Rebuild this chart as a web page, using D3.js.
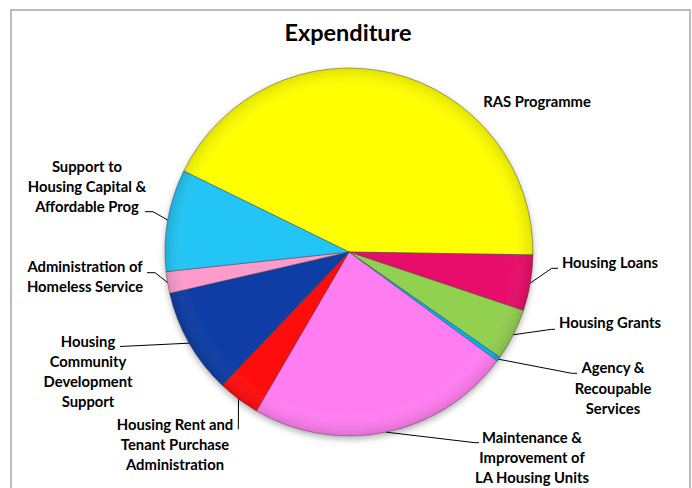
<!DOCTYPE html>
<html>
<head>
<meta charset="utf-8">
<script src="https://cdn.jsdelivr.net/npm/d3@7"></script>
<style>
  html, body { margin: 0; padding: 0; background: #fff; }
  svg { display: block; }
  text { font-family: Lato, "Liberation Sans", sans-serif; font-weight: bold; fill: #000; }
</style>
</head>
<body>
<svg id="chart" width="692" height="488"></svg>
<script>
// ---- data (clockwise order, starting with RAS Programme) ----
const categories = [
  "RAS Programme",
  "Housing Loans",
  "Housing Grants",
  "Agency & Recoupable Services",
  "Maintenance & Improvement of LA Housing Units",
  "Housing Rent and Tenant Purchase Administration",
  "Housing Community Development Support",
  "Administration of Homeless Service",
  "Support to Housing Capital & Affordable Prog"
];
const values = [43.0, 4.9, 4.55, 0.4, 23.3, 3.7, 9.3, 1.9, 8.95];
const colors = ["#FFFF00", "#E8116B", "#92D050", "#00B0F0", "#FF7DF0", "#FF0A0A", "#0A3DA5", "#FF9ACD", "#22C5F5"];
const labelLines = [
  ["RAS Programme"],
  ["Housing Loans"],
  ["Housing Grants"],
  ["Agency &", "Recoupable", "Services"],
  ["Maintenance &", "Improvement of", "LA Housing Units"],
  ["Housing Rent and", "Tenant Purchase", "Administration"],
  ["Housing", "Community", "Development", "Support"],
  ["Administration of", "Homeless Service"],
  ["Support to", "Housing Capital &", "Affordable Prog"]
];
const title = "Expenditure";

// ---- layout ----
const svg = d3.select("#chart");
const cx = 349, cy = 252, R = 184;
const startDeg = -63.9;

// frame
svg.append("rect").attr("x", 11).attr("y", 10).attr("width", 679).attr("height", 490)
  .attr("fill", "#fff").attr("stroke", "#A6A6A6").attr("stroke-width", 1.5);

svg.append("text").attr("x", 348).attr("y", 41).attr("text-anchor", "middle")
  .style("font-size", "23.5px").text(title);

const defs = svg.append("defs");
const f = defs.append("filter").attr("id", "shadow").attr("x", "-20%").attr("y", "-20%").attr("width", "140%").attr("height", "140%");
f.append("feDropShadow").attr("dx", 0).attr("dy", 3).attr("stdDeviation", 3).attr("flood-color", "#000").attr("flood-opacity", 0.3);

const rg = defs.append("radialGradient").attr("id", "rim").attr("cx", "50%").attr("cy", "50%").attr("r", "50%");
rg.append("stop").attr("offset", "0%").attr("stop-color", "#fff").attr("stop-opacity", 0.0);
rg.append("stop").attr("offset", "88%").attr("stop-color", "#fff").attr("stop-opacity", 0.0);
rg.append("stop").attr("offset", "100%").attr("stop-color", "#000").attr("stop-opacity", 0.12);

const pie = d3.pie().sort(null).value(d => d)
  .startAngle(startDeg * Math.PI / 180)
  .endAngle(startDeg * Math.PI / 180 + 2 * Math.PI);
const arcs = pie(values);
const arc = d3.arc().innerRadius(0).outerRadius(R);

const g = svg.append("g").attr("transform", `translate(${cx},${cy})`);
const pg = g.append("g").attr("filter", "url(#shadow)");
pg.selectAll("path.slice").data(arcs).enter().append("path")
  .attr("class", "slice")
  .attr("d", arc)
  .attr("fill", (d, i) => colors[i])
  .attr("stroke", "rgba(60,60,60,0.55)")
  .attr("stroke-width", 0.8);
g.append("circle").attr("r", R).attr("fill", "url(#rim)").attr("pointer-events", "none");

// ---- labels ----
const labelPos = [
  { x: 537, y: 106.5, anchor: "middle" },
  { x: 610, y: 268.3, anchor: "middle" },
  { x: 610, y: 328.3, anchor: "middle" },
  { x: 613, y: 373.3, anchor: "middle" },
  { x: 532, y: 442.7, anchor: "middle" },
  { x: 175, y: 430, anchor: "middle" },
  { x: 88, y: 346.7, anchor: "middle" },
  { x: 85, y: 271.7, anchor: "middle" },
  { x: 87, y: 171.7, anchor: "middle" }
];
const lineH = 20.2;
labelLines.forEach((lines, i) => {
  const p = labelPos[i];
  const t = svg.append("text").attr("text-anchor", p.anchor).style("font-size", "14.8px");
  lines.forEach((ln, j) => {
    t.append("tspan").attr("x", p.x).attr("y", p.y + j * lineH).text(ln);
  });
});

// leader lines: from slice rim to label
function rimPoint(i, frac) {
  const a = arcs[i].startAngle + (arcs[i].endAngle - arcs[i].startAngle) * frac;
  return [cx + R * Math.sin(a), cy - R * Math.cos(a)];
}
const leaders = [
  null,
  { i: 1, frac: 0.5, pts: [[551.7, 268.3], [558, 268.3]] },
  { i: 2, frac: 0.5, pts: [[551.7, 329.3], [555, 329.3]] },
  { i: 3, frac: 0.5, pts: [[571.7, 373.3], [577, 373.3]] },
  { i: 4, frac: 0.5, pts: [[475, 442.7], [479, 442.7]] },
  { i: 5, frac: 0.5, pts: [[238.3, 429.3]] },
  { i: 6, frac: 0.5, pts: [[120, 346.5]] },
  { i: 7, frac: 0.5, pts: [[155, 272.7], [147, 272.7]] },
  { i: 8, frac: 0.5, pts: [[153, 211.7], [145, 211.7]] }
];
const line = d3.line();
leaders.forEach(l => {
  if (!l) return;
  const s = rimPoint(l.i, l.frac);
  svg.append("path").attr("d", line([s, ...l.pts]))
    .attr("fill", "none").attr("stroke", "#000").attr("stroke-width", 1);
});
</script>
</body>
</html>
